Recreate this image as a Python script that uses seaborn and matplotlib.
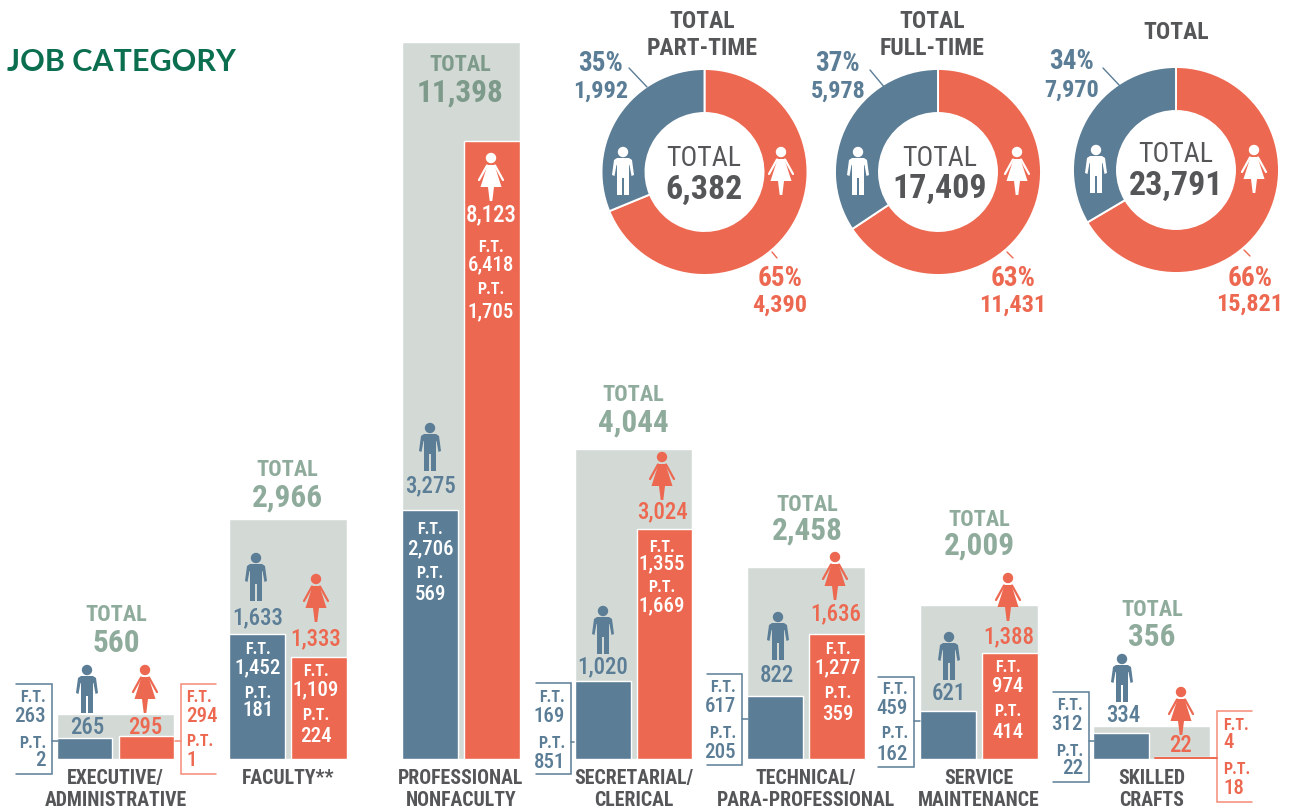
import matplotlib
matplotlib.use("Agg")
import matplotlib.pyplot as plt
from matplotlib import font_manager as fm
from matplotlib.patches import Polygon, Circle
import pandas as pd
import seaborn as sns

# ---------- data ----------
categories = ["EXECUTIVE/\nADMINISTRATIVE", "FACULTY**", "PROFESSIONAL\nNONFACULTY", "SECRETARIAL/\nCLERICAL",
              "TECHNICAL/\nPARA-PROFESSIONAL", "SERVICE\nMAINTENANCE", "SKILLED\nCRAFTS"]
totals = [560, 2966, 11398, 4044, 2458, 2009, 356]
men = [265, 1633, 3275, 1020, 822, 621, 334]
women = [295, 1333, 8123, 3024, 1636, 1388, 22]
men_ft = [263, 1452, 2706, 169, 617, 459, 312]
men_pt = [2, 181, 569, 851, 205, 162, 22]
women_ft = [294, 1109, 6418, 1355, 1277, 974, 4]
women_pt = [1, 224, 1705, 1669, 359, 414, 18]
band_heights = [592, 3145, 9434, 4066, 2526, 2026, 434]  # height of the grey band as drawn

donut_titles = ["TOTAL\nPART-TIME", "TOTAL\nFULL-TIME", "TOTAL"]
donut_totals = [6382, 17409, 23791]
donut_women = [4390, 11431, 15821]
donut_men = [1992, 5978, 7970]
donut_women_pct = [65, 63, 66]
donut_men_pct = [35, 37, 34]

# ---------- style ----------
BLUE, RED, GREY = "#5B7D96", "#ED6850", "#D3DAD6"
SAGE, SAGE_DARK, DARK, TITLE = "#8FAB9C", "#7D9A8B", "#545658", "#0B6E4F"
BRACKET_RED = "#F58A78"
sns.set_theme(style="white")
names = {f.name for f in fm.fontManager.ttflist}
COND = [n for n in ["Liberation Sans Narrow", "Roboto Condensed", "Roboto"] if n in names]
plt.rcParams["font.family"] = COND + ["DejaVu Sans"]
MED = 500

W, H, BASE = 1296, 809, 758.5
PX_PER_UNIT = 0.076
CAT_STEP = 172.67
X0 = 115.5
fig = plt.figure(figsize=(W / 100, H / 100), dpi=100, facecolor="white")

# ---------- bars ----------
ax = fig.add_axes([0, (H - BASE) / H, 1, BASE / H])
band_df = pd.DataFrame({"category": categories, "height": band_heights})
sns.barplot(data=band_df, x="category", y="height", color=GREY, saturation=1, width=0.68, ax=ax, zorder=1)
bars_df = pd.DataFrame({"category": categories * 2, "gender": ["Men"] * 7 + ["Women"] * 7, "count": men + women})
sns.barplot(data=bars_df, x="category", y="count", hue="gender", palette={"Men": BLUE, "Women": RED},
            saturation=1, width=0.718, gap=0.097, legend=False, ax=ax, zorder=2)
ax.set_xlim(-X0 / CAT_STEP, (W - X0) / CAT_STEP)
ax.set_ylim(0, BASE / PX_PER_UNIT)
ax.set_xlabel("")
ax.set_ylabel("")
ax.set_yticks([])
ax.tick_params(axis="x", length=0, pad=7.5, colors=DARK)
for lab in ax.get_xticklabels():
    lab.set_fontsize(14.2)
    lab.set_fontweight("bold")
    lab.set_linespacing(1.18)
sns.despine(ax=ax, left=True, bottom=True)
ax.patch.set_alpha(0)

# ---------- donuts ----------
donut_centers = [(704.5, 172), (938, 172), (1176, 170)]
R, r = 103, 59
for (cx, cy), wv, mv in zip(donut_centers, donut_women, donut_men):
    dax = fig.add_axes([(cx - R - 2) / W, (H - cy - R - 2) / H, (2 * R + 4) / W, (2 * R + 4) / H])
    dax.pie([wv, mv], colors=[RED, BLUE], startangle=90, counterclock=False, radius=R / (R + 2),
            wedgeprops=dict(width=(R - r) / (R + 2), edgecolor="white", linewidth=1.4))
    dax.set_xlim(-1, 1)
    dax.set_ylim(-1, 1)

# ---------- overlay (pixel coordinates) ----------
ov = fig.add_axes([0, 0, 1, 1], zorder=10)
ov.set_xlim(0, W)
ov.set_ylim(H, 0)
ov.axis("off")
ov.patch.set_alpha(0)


def txt(x, y, s, color, size, weight="bold", ha="center"):
    ov.text(x, y + 1, s, color=color, fontsize=size, fontweight=weight, ha=ha, va="center")


MAN = [(-6, 6), (6, 6), (9, 8), (11, 23), (8.5, 24), (6.5, 13), (6, 13), (6, 43), (1, 43), (1, 26), (-1, 26),
       (-1, 43), (-6, 43), (-6, 13), (-6.5, 13), (-8.5, 24), (-11, 23), (-9, 8)]
WOMAN = [(-3.5, 7), (3.5, 7), (10.5, 29), (3, 29), (1.3, 43), (-1.3, 43), (-3, 29), (-10.5, 29)]


def person(cx, cy, color, kind):
    ov.add_patch(Circle((cx, cy), 5.2, color=color, lw=0))
    shape = MAN if kind == "m" else WOMAN
    ov.add_patch(Polygon([(cx + a, cy + b) for a, b in shape], closed=True, color=color, lw=0))
    if kind == "w":
        for s in (-1, 1):
            ov.plot([cx + s * 4, cx + s * 12], [cy + 7.5, cy + 22], color=color, lw=1.6, solid_capstyle="round")


# title
ov.text(7, 62, "JOB CATEGORY", color=TITLE, fontsize=22, fontweight="bold", ha="left", va="center",
        family=["Lato", "DejaVu Sans"])

# totals over each group
total_xy = [(116, 614, 642), (287, 469, 497), (460, 64, 92), (633, 394, 422), (807, 504, 530), (979, 519, 545),
            (1152, 609, 636)]
for i, (x, y1, y2) in enumerate(total_xy):
    c = SAGE_DARK if i == 2 else SAGE
    txt(x, y1, "TOTAL", c, 16)
    txt(x, y2, f"{totals[i]:,}", c, 22.5)

# gender figures and icons
men_xy = [(87, 726), (258, 617), (430, 485), (603, 666), (777, 675), (949, 692), (1123, 715)]
women_xy = [(145, 726), (316, 638), (491, 214), (662, 511), (836, 613), (1009, 636), (1181, 745)]
men_head = [(87, 670), (256, 558), (430, 428), (603, 611), (778, 617), (949, 637), (1122, 659)]
women_head = [(145, 670), (316, 579), (491, 158), (662, 457), (835, 557), (1008, 578), (1181, 692)]
for i in range(7):
    txt(*men_xy[i], f"{men[i]:,}", BLUE, 16.5, weight=MED)
    wc = "white" if i == 2 else RED
    txt(*women_xy[i], f"{women[i]:,}", wc, 16.5, weight=MED)
    person(*men_head[i], BLUE, "m")
    person(*women_head[i], wc, "w")

# F.T. / P.T. inside bars: (category, series, x, four y rows)
inside = [(1, "m", 258, (649, 667, 693, 710)), (1, "w", 316, (671, 689, 714, 735)),
          (2, "m", 430, (529, 548, 572, 593)), (2, "w", 491, (246, 264, 289, 311)),
          (3, "w", 662, (546, 563, 587, 605)), (4, "w", 838, (649, 667, 693, 713)),
          (5, "w", 1008, (667, 685, 711, 731))]
for i, g, x, ys in inside:
    ft, pt = (men_ft[i], men_pt[i]) if g == "m" else (women_ft[i], women_pt[i])
    txt(x, ys[0], "F.T.", "white", 11.5)
    txt(x, ys[1], f"{ft:,}", "white", 15, weight=MED)
    txt(x, ys[2], "P.T.", "white", 11.5)
    txt(x, ys[3], f"{pt:,}", "white", 15, weight=MED)

# brackets outside bars: (category, series, outer x, vertical x, top, bottom, stub end, stub y, text x, four y rows)
brackets = [(0, "m", 16, 52, 684, 774, 58, 741, 46, (697, 715, 742, 760)),
            (0, "w", 216, 181, 684, 774, 175, 741, 186, (697, 715, 741, 760)),
            (3, "m", 536, 571, 683, 774, 574, 742, 565, (697, 716, 742, 761)),
            (4, "m", 707, 742, 674, 765, 748, 719, 736, (687, 705, 732, 751)),
            (5, "m", 878, 914, 677, 767, 920, 721, 908, (689, 708, 733, 753)),
            (6, "m", 1053, 1089, 692, 782, 1094, 741, 1083, (705, 723, 750, 768)),
            (6, "w", 1252, 1217, 711, 802, 1155, 758, 1223, (724, 742, 769, 787))]
for i, g, xo, xv, top, bot, xs, ys, xt, rows in brackets:
    col = BLUE if g == "m" else BRACKET_RED
    tcol = BLUE if g == "m" else RED
    ha = "right" if g == "m" else "left"
    ft, pt = (men_ft[i], men_pt[i]) if g == "m" else (women_ft[i], women_pt[i])
    ov.plot([xo, xv, xv, xo], [top, top, bot, bot], color=col, lw=1.1, solid_joinstyle="miter")
    ov.plot([xv, xs], [ys, ys], color=RED if (i == 6 and g == "w") else col, lw=1.4 if (i == 6 and g == "w") else 1.1)
    txt(xt, rows[0], "F.T.", tcol, 11.5, ha=ha)
    txt(xt, rows[1], f"{ft:,}", tcol, 15, weight=MED, ha=ha)
    txt(xt, rows[2], "P.T.", tcol, 11.5, ha=ha)
    txt(xt, rows[3], f"{pt:,}", tcol, 15, weight=MED, ha=ha)

# donut texts
title_xy = [(702, 35), (932, 35), (1176, 32)]
center_y = [(157, 189), (157, 188), (153, 185)]
center_x = [704, 940, 1176]
men_lab = [(601, 62, 90), (838, 62, 90), (1072, 60, 89)]
women_lab = [(780, 277, 304), (1013, 277, 304), (1250, 277, 303)]
men_lead = [((629, 68), (647, 87)), ((870, 70), (885, 88)), ((1103, 68), (1120, 86))]
women_lead = [((772, 252), (777, 258)), ((1007, 252), (1013, 258)), ((1244, 250), (1250, 256))]
man_icon = [(623, 152), (858, 152), (1096, 150)]
woman_icon = [(781, 152), (1017, 152), (1254, 150)]
for k in range(3):
    ov.text(*title_xy[k], donut_titles[k], color=DARK, fontsize=17, fontweight="bold", ha="center", va="center",
            linespacing=1.25)
    txt(center_x[k], center_y[k][0], "TOTAL", DARK, 20, weight="normal")
    txt(center_x[k], center_y[k][1], f"{donut_totals[k]:,}", DARK, 24.5)
    txt(men_lab[k][0], men_lab[k][1], f"{donut_men_pct[k]}%", BLUE, 19.5)
    txt(men_lab[k][0], men_lab[k][2], f"{donut_men[k]:,}", BLUE, 17.5)
    txt(women_lab[k][0], women_lab[k][1], f"{donut_women_pct[k]}%", RED, 19.5)
    txt(women_lab[k][0], women_lab[k][2], f"{donut_women[k]:,}", RED, 17.5)
    for (a, b), c in ((men_lead[k], BLUE), (women_lead[k], RED)):
        ov.plot([a[0], b[0]], [a[1], b[1]], color=c, lw=1)
    person(*man_icon[k], "white", "m")
    person(*woman_icon[k], "white", "w")

fig.savefig("out.png", dpi=100, facecolor="white")
